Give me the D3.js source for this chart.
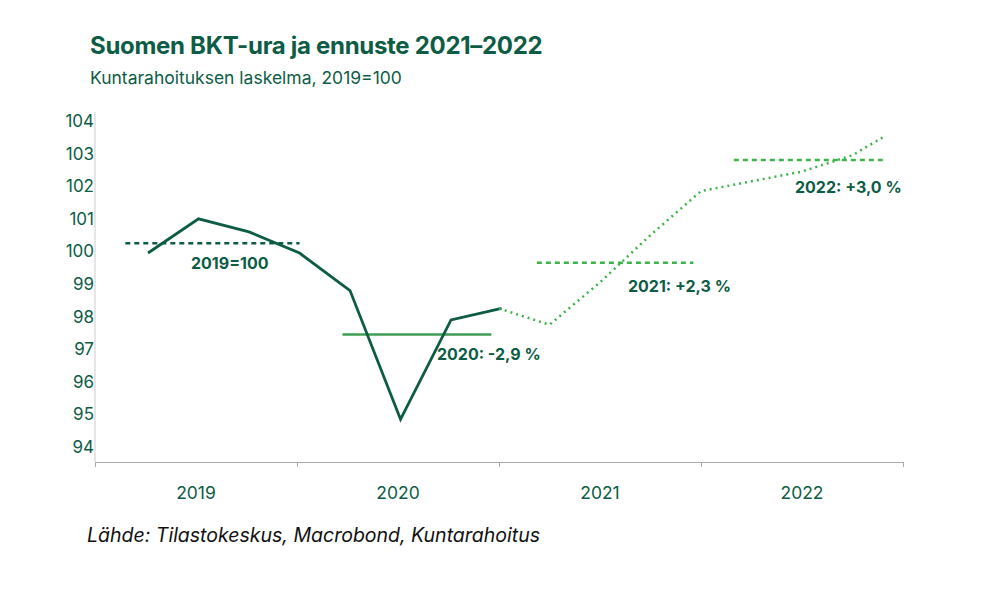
<!DOCTYPE html>
<html><head><meta charset="utf-8">
<script src="https://cdn.jsdelivr.net/npm/d3@7"></script>
<style>
body{margin:0;background:#fff;font-family:Inter,"Noto Sans",sans-serif;}
</style></head>
<body>
<script>
var years = ['2019','2020','2021','2022'];
var yTicks = [94,95,96,97,98,99,100,101,102,103,104];
// quarterly index, 2019=100
var actual = [99.95,101.0,100.6,99.95,98.8,94.85,97.9,98.25];
var forecast = [98.25,97.75,99.05,100.5,101.85,102.15,102.45,102.95,103.5];
var averages = [100.25,97.45,99.65,102.8];
var avgLabels = ['2019=100','2020: -2,9 %','2021: +2,3 %','2022: +3,0 %'];
var avgStyle = [
	{color:'#0d5c45', dash:'5,4'},
	{color:'#3f9c53', dash:null},
	{color:'#3db34a', dash:'5,4'},
	{color:'#3db34a', dash:'5,4'}
];

var dark = '#0d5c45';
var svg = d3.select('body').append('svg').attr('width',995).attr('height',595);

var x = d3.scaleLinear().domain([0,16]).range([95,903]);
var y = d3.scaleLinear().domain([94,104]).range([447,121]);

svg.append('text').attr('x',90).attr('y',54).attr('fill',dark)
	.style('font-size','24px').style('font-weight',700).style('letter-spacing','-0.3px')
	.text('Suomen BKT-ura ja ennuste 2021–2022');
svg.append('text').attr('x',90).attr('y',84).attr('fill',dark)
	.style('font-size','17.5px').text('Kuntarahoituksen laskelma, 2019=100');
svg.append('text').attr('x',87).attr('y',542).attr('fill','#111')
	.style('font-size','19.5px').style('font-style','italic').text('Lähde: Tilastokeskus, Macrobond, Kuntarahoitus');

// y axis
var yAxis = svg.append('g').attr('transform','translate(95,0)')
	.call(d3.axisLeft(y).tickValues(yTicks).tickSize(0).tickPadding(0));
yAxis.select('.domain').attr('stroke','#ccc').attr('d','M0,112V462');
yAxis.selectAll('text').attr('fill',dark).style('font-size','17px')
	.style('font-family','Inter,"Noto Sans",sans-serif').attr('x',-1);

// x axis
var xAxis = svg.append('g').attr('transform','translate(0,462)')
	.call(d3.axisBottom(x).tickValues([0,4,8,12,16]).tickSize(5).tickFormat(''));
xAxis.select('.domain').attr('stroke','#aaa');
xAxis.selectAll('line').attr('stroke','#aaa');
svg.selectAll('.yearlab').data(years).enter().append('text')
	.attr('x',function(d,i){return x(i*4+2);}).attr('y',499)
	.attr('text-anchor','middle').attr('fill',dark).style('font-size','17.5px')
	.text(function(d){return d;});

// average lines
var avgX = [[0.6,4.05],[4.9,7.85],[8.75,11.85],[12.65,15.6]];
averages.forEach(function(v,i){
	svg.append('line').attr('x1',x(avgX[i][0])).attr('x2',x(avgX[i][1]))
		.attr('y1',y(v)).attr('y2',y(v)).attr('stroke',avgStyle[i].color)
		.attr('stroke-width',2.5).attr('stroke-dasharray',avgStyle[i].dash);
});
var labPos = [[191,269],[437,360],[628,292],[795,193]];
avgLabels.forEach(function(t,i){
	svg.append('text').attr('x',labPos[i][0]).attr('y',labPos[i][1]).attr('fill',dark)
		.style('font-size','16px').style('font-weight',700).text(t);
});

var line = d3.line().x(function(d){return x(d[0]);}).y(function(d){return y(d[1]);});
svg.append('path').datum(actual.map(function(v,i){return [i+1.05,v];}))
	.attr('d',line).attr('fill','none').attr('stroke',dark).attr('stroke-width',2.8);
svg.append('path').datum(forecast.map(function(v,i){return [i+8,v];}).map(function(d,i){return i==8?[15.6,d[1]]:d;}))
	.attr('d',line).attr('fill','none').attr('stroke','#3db34a').attr('stroke-width',2.5)
	.attr('stroke-dasharray','2,4');
</script>
</body></html>
